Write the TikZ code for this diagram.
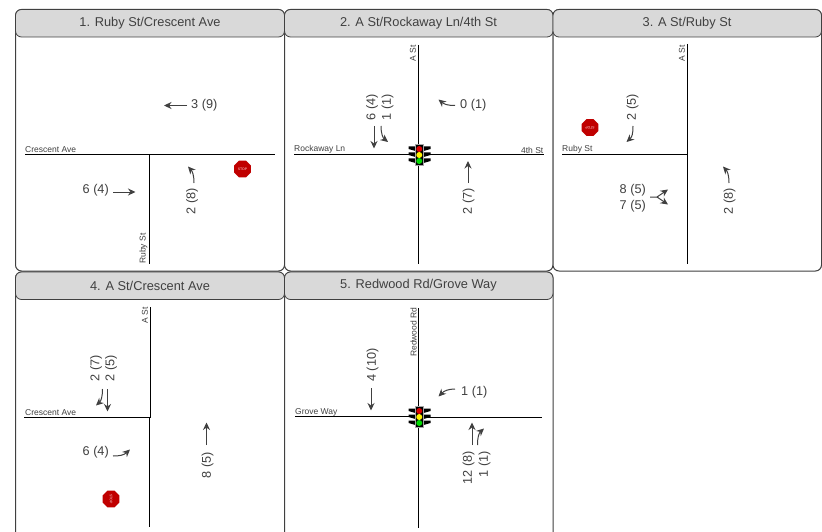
\documentclass[tikz,border=0pt]{standalone}
\usepackage{fontspec}
\setmainfont{Liberation Sans}
\usepackage{xcolor}
\usetikzlibrary{arrows.meta,shapes.geometric}
\definecolor{FrameGray}{HTML}{404040}
\definecolor{HeadGray}{HTML}{D9D9D9}
\definecolor{StopRed}{HTML}{C00000}

\begin{document}
\begin{tikzpicture}[
  x=1pt,y=-1pt,
  panelframe/.style={draw=FrameGray,line width=1pt,rounded corners=6pt,fill=white},
  panelhead/.style={draw=FrameGray,line width=0.8pt,rounded corners=6pt,fill=HeadGray},
  headtext/.style={text=FrameGray,font=\fontsize{12.8}{15}\selectfont,inner sep=0pt},
  road/.style={draw=black,line width=1pt},
  roadname/.style={text=FrameGray,font=\fontsize{8.5}{10}\selectfont,inner sep=0pt},
  volume/.style={text=FrameGray,font=\fontsize{12.7}{15}\selectfont,inner sep=0pt},
  move/.style={draw=FrameGray,line width=1pt,-{Stealth[length=7.5pt,width=7pt]}},
  stopsign/.style={regular polygon,regular polygon sides=8,fill=StopRed,minimum size=18pt,inner sep=0pt,
    text=white!85!red,font=\fontsize{3.5}{4}\selectfont},
  signal/.pic={
    \fill[black] (-10,-8) -- (-3,-8) -- (-3,-3.5) -- (-10,-5.5) -- cycle;
    \fill[black] (-10,-2) -- (-3,-2) -- (-3,2.5) -- (-10,0.5) -- cycle;
    \fill[black] (-10,4) -- (-3,4) -- (-3,8.5) -- (-10,6.5) -- cycle;
    \fill[black] (12,-8) -- (5,-8) -- (5,-3.5) -- (12,-5.5) -- cycle;
    \fill[black] (12,-2) -- (5,-2) -- (5,2.5) -- (12,0.5) -- cycle;
    \fill[black] (12,4) -- (5,4) -- (5,8.5) -- (12,6.5) -- cycle;
    \fill[black,draw=gray!70,line width=0.6pt] (-3.5,-10) rectangle (5,11);
    \fill[red!85!black] (0.75,-5.5) circle (3);
    \fill[yellow] (0.75,0.5) circle (3);
    \fill[green!85!black] (0.75,6.5) circle (3);
  }
]
\clip (0,0) rectangle (822,532);

% --- panels ---
\draw[panelframe] (15.5,9.5) rectangle (284.5,271);
\draw[panelframe] (284.5,9.5) rectangle (553,271);
\draw[panelframe] (553,9.5) rectangle (821.5,271);
\draw[panelframe] (15.5,272) rectangle (284.5,545);
\draw[panelframe] (284.5,272) rectangle (553,545);

\draw[panelhead] (15.5,9.5) rectangle (284.5,37);
\draw[panelhead] (284.5,9.5) rectangle (553,37);
\draw[panelhead] (553,9.5) rectangle (821.5,37);
\draw[panelhead] (15.5,272) rectangle (284.5,299.5);
\draw[panelhead] (284.5,272) rectangle (553,299.5);

\node[headtext] (headone) at (150,23.5) {1. Ruby St/Crescent Ave};
\node[headtext] (headtwo) at (418.5,23.5) {2. A St/Rockaway Ln/4th St};
\node[headtext] (headthree) at (687,23.5) {3. A St/Ruby St};
\node[headtext] (headfour) at (150,285.5) {4. A St/Crescent Ave};
\node[headtext] (headfive) at (418.5,285.5) {5. Redwood Rd/Grove Way};

% --- panel 1 ---
\draw[road] (25,154.5) -- (275,154.5);
\draw[road] (149.5,154.5) -- (149.5,264);
\node[roadname,anchor=south west] (crescentone) at (25,153) {Crescent Ave};
\node[roadname,anchor=west,rotate=90] (rubyone) at (143.5,264) {Ruby St};
\node[stopsign] (stopone) at (242.5,169) {STOP};
\node[volume,anchor=west] (voloneb) at (191,105) {3 (9)};
\draw[move] (187,105.5) -- (164,105.5);
\node[volume,anchor=east] (volonea) at (109,190.5) {6 (4)};
\draw[move] (113,192) -- (135.5,192);
\node[volume,rotate=90] (volonec) at (192,201.5) {2 (8)};
\draw[move] (194,183) .. controls (194,174) and (192,171) .. (188,166.5);

% --- panel 2 ---
\draw[road] (294,154.5) -- (544,154.5);
\draw[road] (418.5,45) -- (418.5,264);
\node[roadname,anchor=east,rotate=90] (astwo) at (413,45) {A St};
\node[roadname,anchor=south west] (rockaway) at (294,153.5) {Rockaway Ln};
\node[roadname,anchor=south east] (fourth) at (543.5,153.5) {4th St};
\pic (sigtwo) at (418.5,154.5) {signal};
\node[volume,anchor=west] (voltwob) at (460,105) {0 (1)};
\draw[move] (455,105.5) .. controls (447,105.5) and (444,104) .. (438.5,99.5);
\node[volume,rotate=90] (voltwoa) at (372,107) {6 (4)};
\node[volume,rotate=90] (voltwoc) at (387.5,107) {1 (1)};
\draw[move] (374,126) -- (374,148.5);
\draw[move] (381,126) .. controls (381,134) and (383,138) .. (388,142);
\node[volume,rotate=90] (voltwod) at (468.5,201.5) {2 (7)};
\draw[move] (468,183) -- (468,161);

% --- panel 3 ---
\draw[road] (562,154.5) -- (687.5,154.5);
\draw[road] (687.5,44) -- (687.5,264);
\node[roadname,anchor=east,rotate=90] (asthree) at (682,45) {A St};
\node[roadname,anchor=south west] (rubythree) at (562,153.5) {Ruby St};
\node[stopsign,rotate=180] (stopthree) at (590,127.5) {STOP};
\node[volume,rotate=90] (volthreea) at (632.5,107) {2 (5)};
\draw[move] (633,126) .. controls (633,134) and (632,137) .. (626.5,142);
\node[volume,anchor=east] (volthreeb) at (646,190.5) {8 (5)};
\node[volume,anchor=east] (volthreec) at (646,206.5) {7 (5)};
\draw[move] (650,197) -- (657,197) -- (668,189.5);
\draw[move] (657,197) -- (668,204.5);
\node[volume,rotate=90] (volthreed) at (729.5,201.5) {2 (8)};
\draw[move] (729,183) .. controls (729,174) and (727,171) .. (723,166.5);

% --- panel 4 ---
\draw[road] (24,417.5) -- (150,417.5);
\draw[road] (150.5,307) -- (150.5,417.5);
\draw[road] (149.5,417.5) -- (149.5,527);
\node[roadname,anchor=south west] (crescentfour) at (25,415.5) {Crescent Ave};
\node[roadname,anchor=east,rotate=90] (asfour) at (145,307) {A St};
\node[volume,rotate=90] (volfoura) at (96,368.5) {2 (7)};
\node[volume,rotate=90] (volfourb) at (111,368.5) {2 (5)};
\draw[move] (102.5,389) .. controls (102.5,397) and (101,401) .. (96,405.5);
\draw[move] (107.5,389) -- (107.5,411.5);
\node[volume,anchor=east] (volfourc) at (109,452.5) {6 (4)};
\draw[move] (113,456) .. controls (120,456) and (124,455) .. (130,449.5);
\node[stopsign,rotate=-90] (stopfour) at (111,499) {STOP};
\node[volume,rotate=90] (volfourd) at (207.5,465) {8 (5)};
\draw[move] (206.5,445) -- (206.5,422.5);

% --- panel 5 ---
\draw[road] (295,416.5) -- (418.5,416.5);
\draw[road] (418.5,417.5) -- (542,417.5);
\draw[road] (418.5,308) -- (418.5,528);
\node[roadname,anchor=west,rotate=90] (redwood) at (413.5,357) {Redwood Rd};
\node[roadname,anchor=south west] (grove) at (295,416) {Grove Way};
\pic (sigfive) at (418.5,416.5) {signal};
\node[volume,rotate=90] (volfivea) at (372.5,365) {4 (10)};
\draw[move] (371,388) -- (371,410.5);
\node[volume,anchor=west] (volfiveb) at (461,392) {1 (1)};
\draw[move] (455,389) .. controls (448,389) and (444,391) .. (438.5,396.5);
\node[volume,rotate=90] (volfivec) at (468.5,467.5) {12 (8)};
\node[volume,rotate=90] (volfived) at (484.5,464.5) {1 (1)};
\draw[move] (472,445) -- (472,422.5);
\draw[move] (477.5,445) .. controls (477.5,437) and (479,433) .. (484,428.5);
\end{tikzpicture}
\end{document}
